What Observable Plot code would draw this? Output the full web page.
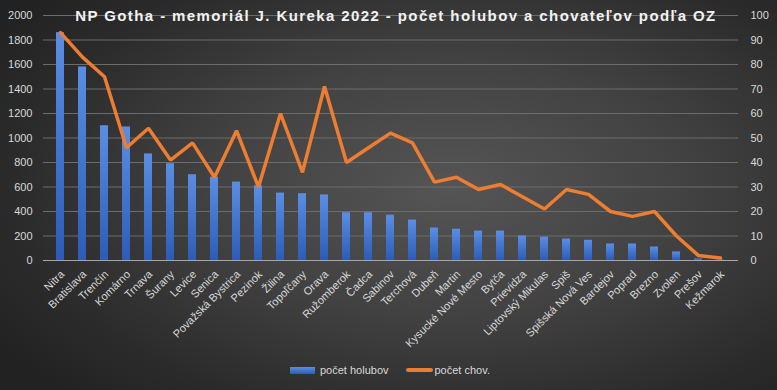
<!DOCTYPE html>
<html><head><meta charset="utf-8">
<script src="https://cdn.jsdelivr.net/npm/d3@7"></script>
<script src="https://cdn.jsdelivr.net/npm/@observablehq/plot@0.6"></script>
<style>
body{margin:0;background:#262626;}
#wrap{position:relative;width:777px;height:390px;overflow:hidden;
 background:radial-gradient(ellipse 70% 75% at 58% 48%, #555 0%, #414141 45%, #2b2b2b 80%, #222 100%);
 font-family:"Liberation Sans",Arial,sans-serif;}
#title{position:absolute;top:7px;left:0;width:792px;text-align:center;color:#f2f2f2;font-weight:bold;font-size:15px;letter-spacing:1.4px;white-space:nowrap;}
#legend{position:absolute;top:363px;left:290px;color:#d9d9d9;font-size:11px;white-space:nowrap;}
#legend span{display:inline-block;vertical-align:middle;}
svg{position:absolute;left:0;top:0;}
</style></head>
<body>
<div id="wrap">
<div id="chart"></div>
<div id="title">NP Gotha - memoriál J. Kureka 2022 - počet holubov a chovateľov podľa OZ</div>
<div id="legend"><span style="width:25px;height:7px;background:linear-gradient(#5b8ee3,#2c5cb8);margin-right:5px"></span><span>počet holubov</span><span style="width:27px;height:4px;background:#ed7d31;margin-left:17px;margin-right:2px;border-radius:2px"></span><span>počet chov.</span></div>
</div>
<script>
const oz = ["Nitra","Bratislava","Trenčín","Komárno","Trnava","Šurany","Levice","Senica","Považská Bystrica","Pezinok","Žilina","Topoľčany","Orava","Ružomberok","Čadca","Sabinov","Terchová","Dubeň","Martin","Kysucké Nové Mesto","Bytča","Prievidza","Liptovský Mikulas","Spiš","Spišská Nová Ves","Bardejov","Poprad","Brezno","Zvolen","Prešov","Kežmarok"];
const holuby = [1860,1580,1100,1090,870,790,700,680,640,610,550,545,535,390,390,370,330,265,255,240,240,200,190,175,165,135,135,110,70,12,3];
const chov = [93,83,75,46,54,41,48,34,53,30,60,36,71,40,46,52,48,32,34,29,31,26,21,29,27,20,18,20,10,2,1];
const leftTicks = d3.range(0, 2001, 200);
const data = oz.map((o, i) => ({oz: o, holuby: holuby[i], chov: chov[i]}));

const defs = () => {
  const ns = "http://www.w3.org/2000/svg";
  const d = document.createElementNS(ns, "defs");
  d.innerHTML = '<linearGradient id="barg" x1="0" y1="0" x2="0" y2="1"><stop offset="0" stop-color="#5b8ee3"/><stop offset="1" stop-color="#2c5cb8"/></linearGradient>';
  return d;
};

const chart = Plot.plot({
  width: 777, height: 390,
  marginTop: 15, marginBottom: 130, marginLeft: 43, marginRight: 39,
  style: {background: "transparent", color: "#d9d9d9", fontFamily: '"Liberation Sans", Arial, sans-serif', fontSize: "11px"},
  x: {domain: oz, paddingInner: 0.62, paddingOuter: 0.31, label: null},
  y: {domain: [0, 2000], label: null},
  marks: [
    defs,
    Plot.gridY(leftTicks, {stroke: "#6c6c6c", strokeOpacity: 1}),
    Plot.barY(data, {x: "oz", y: "holuby", fill: "url(#barg)"}),
    Plot.ruleY([0], {stroke: "#a6a6a6"}),
    Plot.lineY(data, {x: "oz", y: d => d.chov * 20, stroke: "#ed7d31", strokeWidth: 3.5, strokeLinejoin: "miter"}),
    Plot.axisY(leftTicks, {anchor: "left", tickSize: 0, tickPadding: 11, tickFormat: d => String(d), label: null, fill: "#d9d9d9"}),
    Plot.axisY(leftTicks, {anchor: "right", tickSize: 0, tickPadding: 12, tickFormat: d => String(d / 20), label: null, fill: "#d9d9d9"}),
    Plot.axisX({tickRotate: -45, tickSize: 0, tickPadding: 12, dx: 2, label: null, fill: "#d9d9d9"})
  ]
});
document.getElementById("chart").appendChild(chart);
</script>
</body></html>
